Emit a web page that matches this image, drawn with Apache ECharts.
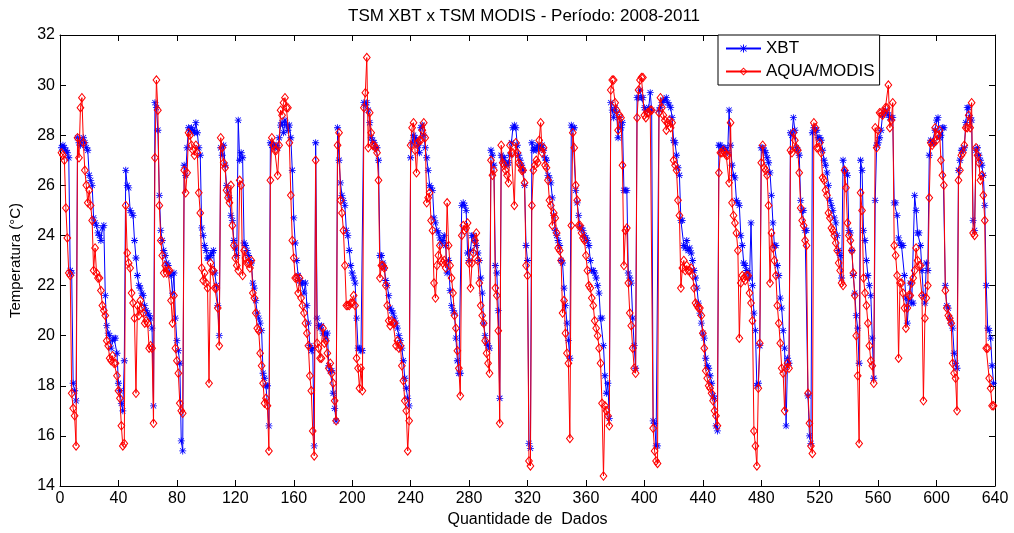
<!DOCTYPE html>
<html>
<head>
<meta charset="utf-8">
<script src="https://cdn.jsdelivr.net/npm/echarts@6/dist/echarts.min.js"></script>
<style>
html,body{margin:0;padding:0;background:#fff;}
#chart{width:1014px;height:533px;}
</style>
</head>
<body>
<div id="chart"></div>
<script>
// Data (x = 1, 2, 3, ...)
const xbt = [
27.5,27.6,27.5,27.4,27.3,27.1,22.6,22.5,18.1,17.8,
17.4,27.9,27.7,27.6,27.8,27.9,27.7,27.5,27.4,26.4,
26.2,26.0,24.7,24.5,24.4,24.1,24.0,23.8,24.3,24.4,
21.6,20.4,20.1,20.0,19.5,19.8,19.9,19.9,19.3,18.1,
17.8,17.3,17.0,19.0,26.6,26.0,25.9,25.0,24.9,24.8,
23.8,23.1,22.4,22.0,21.9,21.7,21.6,21.2,21.0,20.9,
20.8,20.7,20.3,17.2,29.3,29.1,28.2,25.6,24.2,23.8,
23.4,23.2,22.9,22.8,22.5,22.4,21.7,22.5,20.7,19.8,
19.4,18.9,15.8,15.4,26.8,26.4,27.5,28.3,28.2,28.3,
28.2,28.1,28.5,28.1,27.5,27.2,24.3,24.0,23.6,23.4,
23.1,23.1,23.2,23.3,23.4,22.5,22.0,21.2,20.0,27.5,
27.2,27.6,26.8,26.0,25.7,25.5,24.8,24.6,23.8,23.5,
23.2,28.6,27.0,27.3,27.1,23.7,23.6,23.4,23.2,23.0,
22.9,22.1,21.9,21.4,20.9,20.7,20.5,20.2,18.5,18.3,
18.0,18.0,16.4,27.7,27.6,27.6,27.5,27.6,27.5,27.9,
28.4,28.5,28.1,28.6,28.4,28.2,28.4,27.9,26.6,24.7,
23.7,23.0,22.4,22.2,22.1,22.1,21.7,22.1,21.2,20.5,
19.6,19.4,19.5,15.6,27.7,20.7,20.4,20.3,20.4,20.1,
20.1,19.9,20.1,18.8,18.6,18.6,17.7,17.1,16.6,28.3,
27.0,26.1,25.6,25.4,25.2,24.2,24.0,23.4,22.8,22.5,
22.3,22.1,20.7,19.5,19.5,19.4,19.4,29.3,29.2,29.3,
29.0,28.5,27.9,27.8,27.7,27.5,27.5,27.0,23.2,23.2,
22.9,22.7,22.2,22.0,21.6,21.1,21.0,20.9,20.7,20.5,
20.3,20.0,19.8,19.5,19.0,18.3,17.9,17.5,17.2,27.1,
27.7,28.0,27.9,27.8,27.6,27.3,28.3,28.4,28.0,27.5,
27.1,26.6,26.0,25.9,25.8,24.7,24.5,24.2,24.1,23.9,
23.7,23.8,24.0,23.6,22.5,23.0,21.8,21.2,21.0,20.9,
19.9,19.0,18.5,18.5,25.2,25.3,25.2,25.0,23.3,23.0,
23.4,24.0,24.0,23.8,23.6,23.3,23.0,22.3,21.7,20.5,
20.0,19.7,19.6,19.5,27.4,27.2,26.8,22.8,22.5,21.0,
17.5,27.2,27.1,27.1,26.9,26.8,26.9,27.2,27.7,28.3,
28.4,28.3,27.6,27.2,27.0,26.8,26.6,26.0,23.6,23.0,
15.7,15.5,27.7,27.4,27.5,27.4,27.6,27.5,27.5,27.6,
27.4,27.1,27.0,26.4,26.3,26.1,25.5,24.8,24.2,24.0,
23.8,23.6,23.0,22.9,21.9,21.2,20.5,19.8,19.1,28.4,
28.3,28.3,25.8,25.3,24.8,24.3,24.3,24.2,24.0,23.9,
23.8,23.6,23.0,22.6,22.6,22.5,22.3,22.0,21.7,20.7,
20.7,19.6,18.4,17.7,18.1,16.7,29.3,29.0,28.7,29.1,
28.9,27.9,28.7,28.3,28.5,25.8,25.8,25.8,22.5,22.3,
22.1,20.7,19.6,18.7,29.5,29.5,29.8,29.5,29.5,29.1,
29.0,29.0,29.1,29.7,29.0,16.6,16.5,15.6,15.6,29.0,
29.1,29.3,29.4,29.4,29.5,29.3,29.2,29.1,28.7,27.8,
27.7,27.2,26.7,26.4,24.6,24.6,23.6,23.5,23.8,23.4,
23.5,23.3,23.0,22.6,22.3,21.9,21.3,20.9,20.5,20.1,
19.9,19.1,18.8,18.7,18.4,18.1,17.6,17.5,16.4,16.2,
27.6,27.6,27.4,27.5,27.5,27.4,27.3,29.0,27.6,26.8,
26.4,26.3,25.4,25.3,25.2,24.0,23.6,22.9,22.8,22.6,
22.5,22.3,24.5,22.0,20.9,20.2,18.0,18.1,19.6,27.5,
27.5,27.4,27.3,27.1,26.9,26.5,25.6,24.5,23.6,23.6,
22.8,22.4,21.5,21.1,20.2,19.5,16.4,19.1,18.9,28.1,
28.0,28.7,28.2,27.5,27.4,27.2,25.4,25.0,25.0,24.2,
24.2,17.6,16.0,15.7,28.1,28.3,28.2,28.2,27.9,27.9,
27.8,27.4,27.0,26.8,26.5,26.0,25.4,25.2,25.0,24.7,
24.5,24.0,23.4,23.2,22.3,27.0,26.6,26.5,26.4,24.2,
24.1,23.4,22.4,21.7,20.8,20.3,18.9,27.0,26.6,24.2,
23.8,23.0,22.4,22.0,21.6,19.9,18.3,25.4,27.6,27.7,
27.9,28.2,28.8,28.9,29.0,28.9,28.8,28.7,28.7,28.7,
25.3,25.3,24.8,23.9,23.7,23.6,23.6,22.4,21.5,20.5,
21.4,22.1,21.3,21.3,25.6,25.0,24.1,24.1,23.6,22.6,
21.6,21.3,22.9,22.6,27.2,27.8,27.7,27.7,28.2,28.6,
28.7,27.9,28.0,28.3,28.3,22.0,21.2,21.1,20.7,20.5,
20.3,19.3,18.9,18.7,26.6,27.0,27.4,27.4,27.5,28.5,
29.1,29.1,28.7,28.6,24.6,24.2,27.4,27.5,27.2,27.0,
26.8,26.4,25.2,22.0,20.3,20.2,19.9,18.8,18.1
];
const modis = [
27.3,27.2,27.0,25.1,23.9,22.5,22.4,17.7,17.1,16.8,
15.6,27.9,27.1,29.1,29.5,27.7,26.6,26.0,25.3,25.8,
25.2,24.6,22.6,23.5,22.5,22.3,22.3,21.8,21.2,21.0,
20.8,19.8,19.6,19.1,19.0,19.2,18.9,18.9,18.4,17.8,
17.5,16.4,15.6,15.7,25.2,23.3,22.9,22.7,21.7,21.3,
20.7,17.7,21.2,20.8,21.4,21.1,20.9,20.5,20.6,20.5,
19.5,19.6,19.5,16.5,27.1,30.2,29.0,25.2,23.8,23.2,
22.5,22.8,22.5,22.6,22.6,21.4,20.5,21.6,19.5,19.0,
18.5,17.3,17.0,16.9,26.6,25.7,26.5,28.1,28.0,27.6,
27.4,27.2,27.6,27.3,25.7,24.9,22.7,22.2,22.5,22.1,
21.9,18.1,22.9,22.6,22.6,21.9,21.9,21.1,19.6,27.9,
27.5,26.9,26.7,25.8,25.5,25.3,26.0,24.4,23.6,23.1,
22.8,22.6,26.2,26.0,22.4,23.4,23.1,22.9,22.9,22.7,
23.0,21.7,21.5,20.9,20.3,20.2,19.3,18.8,18.1,17.3,
17.5,17.2,15.4,26.2,27.9,27.6,27.4,27.4,26.4,27.6,
29.0,28.8,29.3,29.5,29.1,29.1,27.7,25.6,23.8,23.1,
22.3,22.3,21.7,22.3,21.5,21.2,20.9,20.5,20.1,19.6,
18.4,17.8,16.2,15.2,27.0,19.7,19.5,19.1,19.1,20.3,
19.7,19.8,19.3,18.7,18.9,18.5,18.1,17.4,16.6,27.6,
28.1,25.4,24.9,24.2,22.8,21.2,21.2,21.2,21.3,21.3,
21.6,21.2,19.1,18.7,17.9,18.7,17.8,29.1,29.7,31.1,
27.5,28.9,28.1,27.6,27.6,27.5,27.3,26.2,22.3,22.8,
22.8,22.7,22.0,21.2,20.6,20.4,20.6,20.5,20.5,19.6,
19.8,19.5,19.6,18.8,18.2,17.4,17.0,15.4,16.6,27.6,
28.3,28.5,27.4,26.5,27.7,27.8,27.8,28.2,28.5,27.9,
25.3,25.5,25.7,24.6,24.2,22.1,21.5,22.8,23.2,23.6,
23.0,22.9,23.0,22.7,25.3,23.6,22.8,22.3,21.7,20.8,
20.3,19.4,18.7,17.6,24.0,24.4,24.2,24.3,24.5,22.9,
21.9,22.9,23.3,23.8,24.1,23.0,22.1,21.2,20.8,20.5,
19.8,19.3,18.9,18.5,27.0,26.4,26.6,21.9,21.6,20.2,
16.5,27.6,26.9,26.8,26.6,26.4,26.1,27.6,27.3,27.3,
25.2,27.7,27.3,26.9,26.8,26.6,26.6,26.1,22.8,22.4,
15.0,14.8,25.2,26.6,26.8,27.0,26.9,27.8,28.5,27.3,
27.5,26.8,26.7,26.2,25.4,25.2,24.4,24.9,24.7,24.1,
23.5,23.4,23.0,20.9,21.4,20.1,19.3,18.9,15.9,24.4,
28.1,27.5,26.0,25.4,24.4,24.4,24.1,23.9,23.8,23.2,
22.6,22.0,21.9,21.5,21.2,20.6,20.3,20.0,19.5,18.9,
17.3,14.4,17.2,17.0,16.8,16.4,29.8,30.2,30.2,29.3,
29.0,28.2,28.8,28.7,26.8,22.8,24.2,24.3,22.1,20.9,
20.4,19.5,18.7,18.5,28.7,29.8,30.2,30.3,30.3,28.8,
28.7,28.9,28.9,29.0,29.0,16.3,15.4,15.0,14.9,28.9,
29.5,29.1,28.8,28.6,28.2,28.5,28.6,28.3,28.5,27.0,
26.8,26.6,25.4,24.8,21.9,22.7,23.0,22.6,22.8,22.6,
22.6,22.7,22.4,21.9,21.3,21.2,21.1,21.1,20.8,20.1,
19.5,18.6,18.3,18.0,17.9,17.7,17.4,17.0,16.8,16.4,
26.5,27.3,27.3,27.4,27.3,27.2,27.2,26.1,28.5,25.3,
24.8,24.5,24.1,23.4,19.9,22.1,22.4,22.3,22.2,22.4,
22.4,21.7,21.3,20.6,16.2,15.6,14.8,17.9,19.7,26.9,
27.6,26.7,26.6,26.4,25.2,22.1,24.1,23.5,23.0,22.4,
21.2,20.5,19.7,18.7,18.5,17.0,18.7,18.9,18.7,27.4,
27.3,28.1,27.8,27.5,27.4,26.5,25.1,24.6,24.4,23.8,
23.6,17.7,16.5,15.6,15.3,28.5,28.3,27.5,27.5,27.7,
27.3,26.3,26.2,25.8,25.6,24.9,24.7,24.3,24.2,24.0,
23.7,23.4,22.9,22.6,22.1,22.0,26.6,25.9,24.5,24.0,
23.8,23.4,22.5,21.6,20.0,18.4,15.7,25.7,25.0,22.3,
21.7,21.2,20.5,19.6,19.0,18.8,18.1,28.3,27.5,28.2,
28.9,28.9,28.8,28.9,29.1,29.1,30.0,28.3,28.6,29.3,
23.6,23.2,22.4,19.1,22.1,22.1,21.7,21.1,20.3,21.1,
21.6,21.6,22.1,22.3,22.6,23.5,23.0,22.8,22.8,21.6,
17.4,20.7,21.5,22.0,25.5,27.7,27.6,27.7,28.3,27.8,
28.0,28.2,27.0,26.4,26.0,21.8,21.1,20.8,20.7,20.5,
18.9,18.5,18.3,17.0,26.2,26.6,27.2,27.3,27.6,28.3,
28.3,28.8,28.3,29.3,24.1,24.0,27.5,27.2,26.9,26.2,
26.4,25.6,24.6,19.5,19.5,18.3,17.9,17.2,17.2
];
const xStart = 1;
const seriesNames = ['XBT', 'AQUA/MODIS'];
const titleText = 'TSM XBT x TSM MODIS - Período: 2008-2011';
const xName = 'Quantidade de  Dados';
const yName = 'Temperatura (°C)';

const toPairs = arr => arr.map((v, i) => [xStart + i, v]);

const starPath = 'path://M4.4,0H5.6V10H4.4Z M0,4.4H10V5.6H0Z M0.8,1.6L1.6,0.8L9.2,8.4L8.4,9.2Z M8.4,0.8L9.2,1.6L1.6,9.2L0.8,8.4Z';
const diamondPath = 'path://M4,0L8,5L4,10L0,5Z M4,1.6L1.3,5L4,8.4L6.7,5Z';

const FONT = "'Liberation Sans', Arial, sans-serif";
const axisCommon = {
  axisLine: { show: true, onZero: false, lineStyle: { color: '#000', width: 1 } },
  axisTick: { show: true, inside: true, length: 6, lineStyle: { color: '#000' } },
  splitLine: { show: false }
};

const chart = echarts.init(document.getElementById('chart'), null, { renderer: 'canvas' });
chart.setOption({
  animation: false,
  backgroundColor: '#fff',
  textStyle: { fontFamily: FONT },
  grid: { left: 57, right: 19, top: 35, bottom: 45 },
  graphic: [{
    type: 'text', left: 348, top: 8,
    style: { text: titleText, fontFamily: FONT, fontSize: 17, fill: '#000' }
  }],
  legend: {
    orient: 'vertical', left: 718, top: 35,
    padding: [5, 5, 5, 7], itemGap: 6, itemWidth: 35, itemHeight: 10,
    borderColor: '#000', borderWidth: 1, backgroundColor: '#fff',
    textStyle: { fontFamily: FONT, fontSize: 17, color: '#000' },
    data: seriesNames
  },
  xAxis: [
    Object.assign({
      type: 'value', min: 0, max: 640, interval: 40, position: 'bottom',
      name: xName, nameLocation: 'middle', nameGap: 26,
      nameTextStyle: { fontFamily: FONT, fontSize: 16, color: '#000' },
      axisLabel: { fontFamily: FONT, fontSize: 16, color: '#000', margin: 5 }
    }, axisCommon),
    Object.assign({
      type: 'value', min: 0, max: 640, interval: 40, position: 'top',
      axisLabel: { show: false }
    }, axisCommon)
  ],
  yAxis: [
    Object.assign({
      type: 'value', min: 14, max: 32, interval: 2, position: 'left',
      name: yName, nameLocation: 'middle', nameGap: 37,
      nameTextStyle: { fontFamily: FONT, fontSize: 15, color: '#000' },
      axisLabel: { fontFamily: FONT, fontSize: 16, color: '#000', margin: 5 }
    }, axisCommon),
    Object.assign({
      type: 'value', min: 14, max: 32, interval: 2, position: 'right',
      axisLabel: { show: false }
    }, axisCommon)
  ],
  series: [
    {
      name: seriesNames[0], type: 'line', xAxisIndex: 0, yAxisIndex: 0,
      data: toPairs(xbt), showAllSymbol: true,
      symbol: starPath, symbolSize: [7, 7], symbolKeepAspect: false,
      lineStyle: { color: '#0000ff', width: 1 },
      itemStyle: { color: '#0000ff' },
      emphasis: { disabled: true }, z: 2
    },
    {
      name: seriesNames[1], type: 'line', xAxisIndex: 0, yAxisIndex: 0,
      data: toPairs(modis), showAllSymbol: true,
      symbol: diamondPath, symbolSize: [8, 10], symbolKeepAspect: false,
      lineStyle: { color: '#ff0000', width: 1 },
      itemStyle: { color: '#ff0000' },
      emphasis: { disabled: true }, z: 3
    }
  ]
});
</script>
</body>
</html>
